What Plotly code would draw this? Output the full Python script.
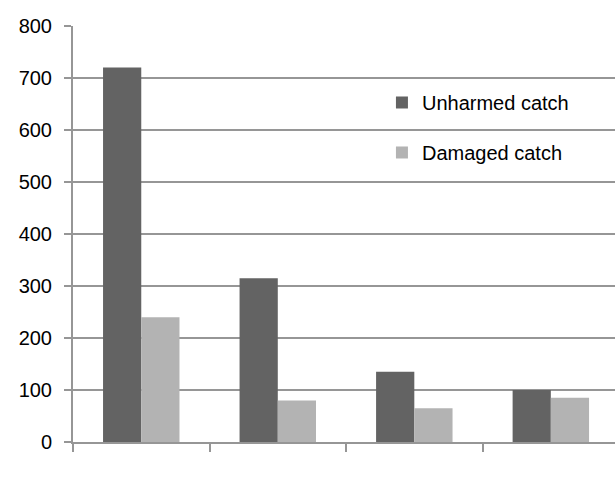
import plotly.graph_objects as go

# Catch counts per group
groups = [0, 1, 2, 3]
series_names = ["Unharmed catch", "Damaged catch"]
unharmed = [720, 315, 135, 100]
damaged = [240, 80, 65, 85]
y_ticks = [0, 100, 200, 300, 400, 500, 600, 700, 800]

colors = ["#636363", "#b3b3b3"]
grid_color = "#969696"
font_family = "Liberation Sans, Arial, sans-serif"

fig = go.Figure()
for name, vals, col in zip(series_names, [unharmed, damaged], colors):
    fig.add_trace(go.Bar(
        x=groups, y=vals, name=name, legendgroup=name,
        marker=dict(color=col, line=dict(width=0)),
    ))

boundaries = [g - 0.5 for g in groups]

fig.update_layout(
    width=615, height=492,
    margin=dict(l=73, r=0, t=26, b=50),
    paper_bgcolor="white", plot_bgcolor="white",
    barmode="group", bargap=0.44, bargroupgap=0,
    font=dict(family=font_family, size=20, color="#000000"),
    showlegend=True,
    legend=dict(
        x=0.57, y=0.863, xanchor="left", yanchor="top",
        bgcolor="rgba(0,0,0,0)", borderwidth=0,
        font=dict(size=20), tracegroupgap=21,
    ),
    xaxis=dict(
        range=[-0.5, 3.47],
        tickmode="array", tickvals=boundaries, ticktext=["" for _ in boundaries],
        ticks="outside", ticklen=8, tickwidth=2, tickcolor=grid_color,
        showline=True, linecolor=grid_color, linewidth=2,
        showgrid=False, zeroline=False, fixedrange=True,
    ),
    yaxis=dict(
        range=[0, 800], tickmode="array", tickvals=y_ticks,
        ticks="outside", ticklen=7, tickwidth=2, tickcolor=grid_color,
        showline=True, linecolor=grid_color, linewidth=2,
        showgrid=True, gridcolor=grid_color, gridwidth=2,
        zeroline=False, ticklabelstandoff=8,
        tickfont=dict(size=20), fixedrange=True,
    ),
)

fig.write_html("out.html")
